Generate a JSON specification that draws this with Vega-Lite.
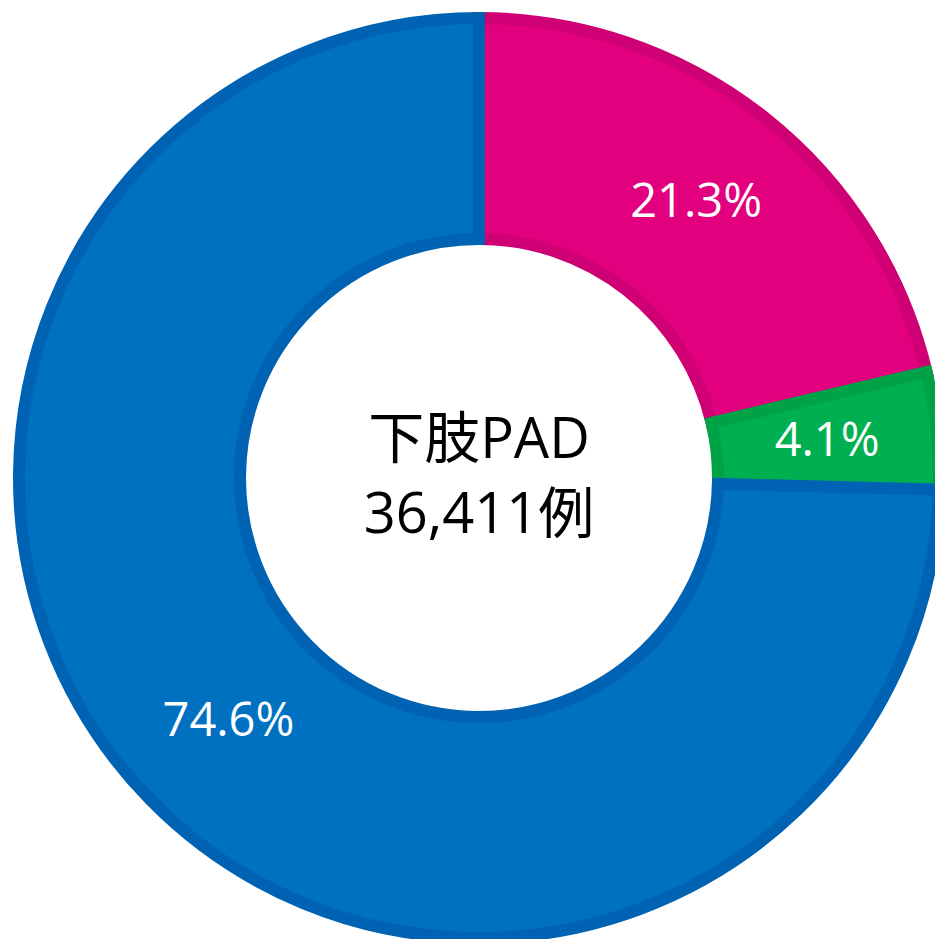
{
  "$schema": "https://vega.github.io/schema/vega-lite/v6.json",
  "width": 958,
  "height": 956,
  "padding": 0,
  "autosize": {"type": "none"},
  "background": "white",
  "view": {"stroke": null},
  "data": {"values": [
    {"idx": 1, "cat": "pink", "pct": 21.3, "label": "21.3%"},
    {"idx": 2, "cat": "green", "pct": 4.1, "label": "4.1%"},
    {"idx": 3, "cat": "blue", "pct": 74.6, "label": "74.6%"}
  ]},
  "encoding": {
    "theta": {"field": "pct", "type": "quantitative", "stack": true},
    "order": {"field": "idx", "type": "quantitative"}
  },
  "layer": [
    {
      "mark": {"type": "arc", "outerRadius": 460, "innerRadius": 239, "strokeWidth": 12},
      "encoding": {
        "color": {"field": "cat", "type": "nominal", "legend": null,
          "scale": {"domain": ["pink", "green", "blue"], "range": ["#E2007E", "#00B050", "#0070C0"]}},
        "stroke": {"field": "cat", "type": "nominal", "legend": null,
          "scale": {"domain": ["pink", "green", "blue"], "range": ["#CF0073", "#00A248", "#0062B2"]}}
      }
    },
    {
      "mark": {"type": "text", "radius": 350, "font": "Open Sans", "fontSize": 47, "color": "white", "align": "center", "baseline": "middle"},
      "encoding": {"text": {"field": "label"}}
    },
    {
      "data": {"values": [{"t": "下肢PAD\n36,411例"}]},
      "mark": {"type": "text", "font": "Open Sans, Noto Sans CJK JP", "fontSize": 56, "lineBreak": "\n", "lineHeight": 75, "dy": -37, "color": "black", "align": "center", "baseline": "middle"},
      "encoding": {"text": {"field": "t"}, "theta": null, "order": null}
    }
  ]
}
